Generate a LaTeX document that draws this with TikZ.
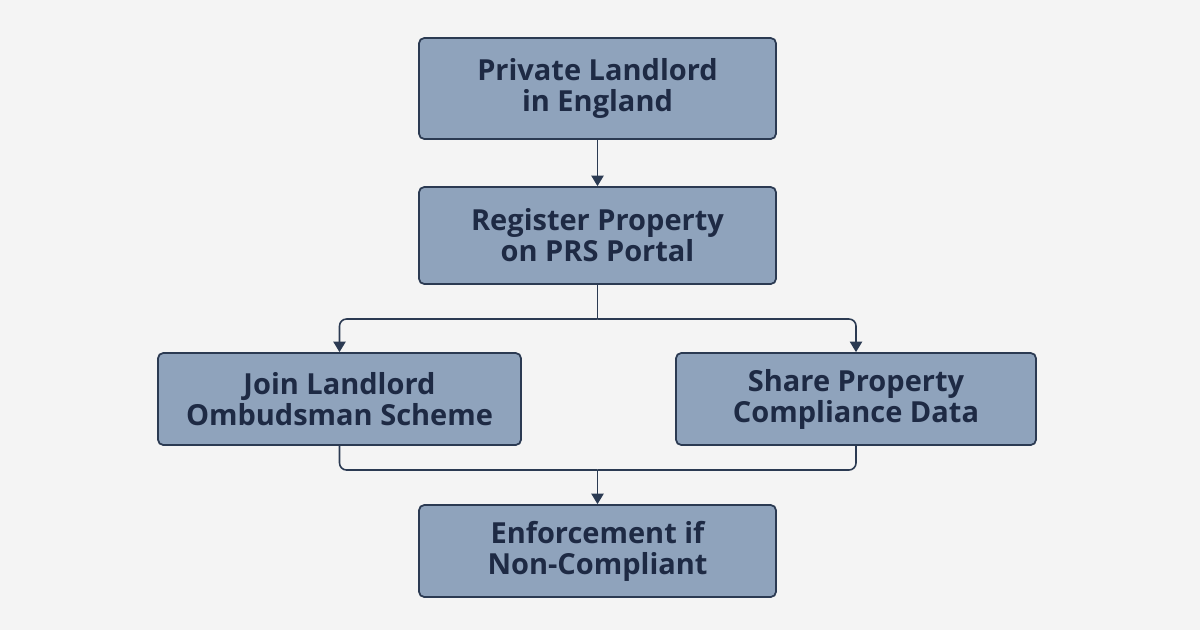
\documentclass[tikz,border=0pt]{standalone}
\usepackage{fontspec}
\setmainfont{Open Sans}
\usepackage{xcolor}
\usetikzlibrary{arrows.meta,positioning,calc}
\definecolor{boxfill}{HTML}{8FA3BC}
\definecolor{boxline}{HTML}{2B3A52}
\definecolor{ink}{HTML}{1E2A44}
\definecolor{paper}{HTML}{F4F4F4}
\tikzstyle{block} = [draw=boxline, line width=1pt, rectangle, rounded corners=3pt, fill=boxfill,
    minimum height=1.92cm, align=center, text=ink, font=\fontsize{16.5}{17.6}\selectfont\bfseries,
    inner sep=0pt]
\tikzstyle{coord} = [coordinate]
\tikzstyle{connector} = [-{Triangle[length=6pt,width=7pt]},line width=0.9pt,draw=boxline]
\begin{document}
\begin{tikzpicture}
		\fill[paper] (0,0) rectangle (24,-12.6);
		\node[block, minimum width=7.14cm, minimum height=2.02cm] (landlord) at (11.95,-1.77) {Private Landlord\\in England};
		\node[block, minimum width=7.14cm, minimum height=1.94cm] (register) at (11.95,-4.71) {Register Property\\on PRS Portal};
		\node[block, minimum width=7.26cm, minimum height=1.84cm] (ombudsman) at (6.79,-7.98) {Join Landlord\\Ombudsman Scheme};
		\node[block, minimum width=7.2cm, minimum height=1.84cm] (share) at (17.12,-7.98) {Share Property\\Compliance Data};
		\node[block, minimum width=7.14cm, minimum height=1.84cm] (enforce) at (11.95,-11.02) {Enforcement if\\Non-Compliant};
		\node[coord] (split) at (11.95,-6.38) {};
		\node[coord] (merge) at (11.95,-9.4) {};

		\draw[connector] (landlord) to (register);
		\draw[line width=0.9pt,draw=boxline] (register) to (split);
		\draw[connector, rounded corners=4pt] (split) -| (ombudsman);
		\draw[connector, rounded corners=4pt] (split) -| (share);
		\draw[line width=0.9pt,draw=boxline, rounded corners=4pt] (ombudsman) |- (merge);
		\draw[line width=0.9pt,draw=boxline, rounded corners=4pt] (share) |- (merge);
		\draw[connector] (merge) to (enforce);
	\end{tikzpicture}
\end{document}
